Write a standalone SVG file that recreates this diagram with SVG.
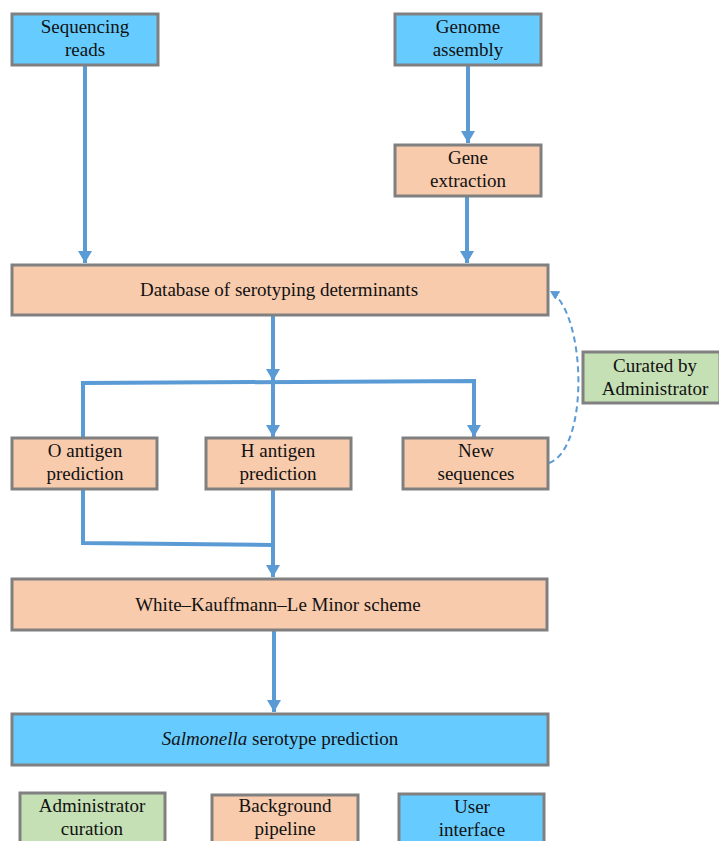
<svg xmlns="http://www.w3.org/2000/svg" width="719" height="841" viewBox="0 0 719 841">
<style>
  .box { stroke: #808080; stroke-width: 3; }
  .ui { fill: #66CCFF; }
  .bg { fill: #F8CBAD; }
  .adm { fill: #C5E0B4; }
  .lbl { font-family: 'Liberation Serif', 'DejaVu Serif', serif; font-size: 19px; fill: #111; text-anchor: middle; }
  .conn { fill: none; stroke: #5B9BD5; stroke-width: 4; }
  .dash { fill: none; stroke: #5B9BD5; stroke-width: 2; stroke-dasharray: 6 4; }
</style>
<defs>
  <marker id="ah" markerUnits="userSpaceOnUse" markerWidth="14" markerHeight="14" refX="12" refY="7" orient="auto">
    <path d="M0,0 L12,7 L0,14 Z" fill="#5B9BD5"/>
  </marker>
  <marker id="ahs" markerUnits="userSpaceOnUse" markerWidth="10" markerHeight="10" refX="9" refY="5" orient="auto">
    <path d="M0,0 L9,5 L0,10 Z" fill="#5B9BD5"/>
  </marker>
</defs>
<g id="connectors">
  <path class="conn" d="M85,66 L85,263" marker-end="url(#ah)"/>
  <path class="conn" d="M468,66 L468,143" marker-end="url(#ah)"/>
  <path class="conn" d="M467,197 L467,263" marker-end="url(#ah)"/>
  <path class="conn" d="M273,316 L273,381" marker-end="url(#ah)"/>
  <path class="conn" d="M83,437 L83,383 L474,381 L474,437" stroke-linejoin="miter" marker-end="url(#ah)"/>
  <path class="conn" d="M273,383 L273,437" marker-end="url(#ah)"/>
  <path class="conn" d="M83,489 L83,543 L273,545"/>
  <path class="conn" d="M273,489 L273,577" marker-end="url(#ah)"/>
  <path class="conn" d="M274,631 L274,712" marker-end="url(#ah)"/>
  <path class="dash" d="M549,463 C590,448 586,312 550,291" marker-end="url(#ahs)"/>
</g>
<g class="lbl">
<g id="sequencing-reads">
  <rect class="box ui" x="12" y="14" width="146" height="51"/>
  <text x="85" y="33">Sequencing</text>
  <text x="85" y="56">reads</text>
</g>
<g id="genome-assembly">
  <rect class="box ui" x="395" y="14" width="146" height="51"/>
  <text x="468" y="33">Genome</text>
  <text x="468" y="56">assembly</text>
</g>
<g id="gene-extraction">
  <rect class="box bg" x="395" y="145" width="146" height="51"/>
  <text x="468" y="164">Gene</text>
  <text x="468" y="187">extraction</text>
</g>
<g id="database">
  <rect class="box bg" x="12" y="265" width="536" height="50"/>
  <text x="279" y="296">Database of serotyping determinants</text>
</g>
<g id="o-antigen">
  <rect class="box bg" x="12" y="438" width="145" height="51"/>
  <text x="85" y="457">O antigen</text>
  <text x="85" y="480">prediction</text>
</g>
<g id="h-antigen">
  <rect class="box bg" x="206" y="438" width="145" height="51"/>
  <text x="278" y="457">H antigen</text>
  <text x="278" y="480">prediction</text>
</g>
<g id="new-sequences">
  <rect class="box bg" x="403" y="438" width="145" height="51"/>
  <text x="476" y="457">New</text>
  <text x="476" y="480">sequences</text>
</g>
<g id="curated">
  <rect class="box adm" x="583" y="352" width="137" height="51"/>
  <text x="655" y="372">Curated by</text>
  <text x="655" y="395">Administrator</text>
</g>
<g id="wkl-scheme">
  <rect class="box bg" x="12" y="579" width="535" height="51"/>
  <text x="278" y="611">White–Kauffmann–Le Minor scheme</text>
</g>
<g id="salmonella">
  <rect class="box ui" x="12" y="714" width="536" height="51"/>
  <text x="280" y="745"><tspan font-style="italic">Salmonella</tspan> serotype prediction</text>
</g>
<g id="legend-admin">
  <rect class="box adm" x="20" y="793" width="145" height="54"/>
  <text x="92" y="812">Administrator</text>
  <text x="92" y="835">curation</text>
</g>
<g id="legend-pipeline">
  <rect class="box bg" x="212" y="795" width="146" height="54"/>
  <text x="285" y="812">Background</text>
  <text x="285" y="835">pipeline</text>
</g>
<g id="legend-ui">
  <rect class="box ui" x="399" y="794" width="145" height="54"/>
  <text x="472" y="813">User</text>
  <text x="472" y="836">interface</text>
</g>
</g>
</svg>
